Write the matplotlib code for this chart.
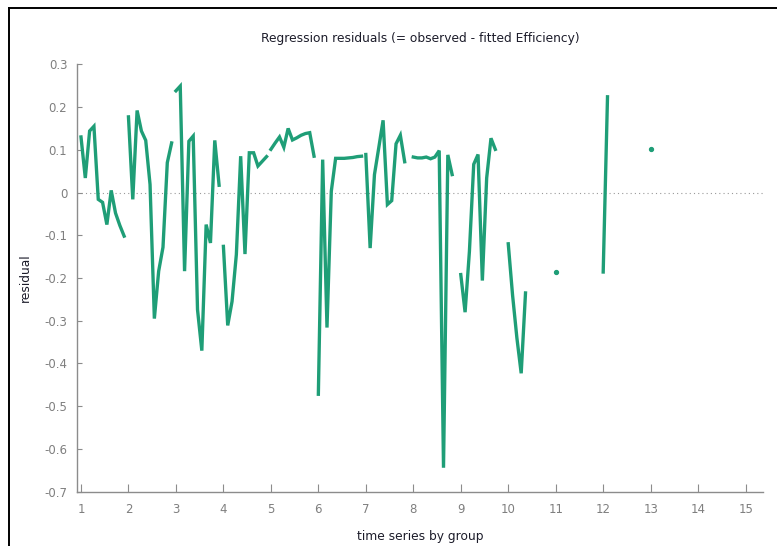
import numpy as np
import matplotlib
matplotlib.use("Agg")
import matplotlib.pyplot as plt
from matplotlib.lines import Line2D
from matplotlib.ticker import FuncFormatter

plt.rcParams["font.family"] = ["DejaVu Sans"]
plt.rcParams["axes.unicode_minus"] = False

# residuals per group (T = 11 periods per group, missing ones left out at the end)
g1 = [0.130, 0.034, 0.144, 0.155, -0.016, -0.023, -0.075, 0.005, -0.048, -0.077, -0.102]
g2 = [0.177, -0.016, 0.192, 0.144, 0.122, 0.019, -0.295, -0.184, -0.128, 0.070, 0.116]
g3 = [0.238, 0.249, -0.184, 0.120, 0.132, -0.274, -0.370, -0.075, -0.118, 0.122, 0.017]
g4 = [-0.126, -0.311, -0.255, -0.145, 0.085, -0.144, 0.093, 0.093, 0.062, 0.073, 0.084]
g5 = [0.101, 0.116, 0.130, 0.106, 0.150, 0.123, 0.128, 0.134, 0.138, 0.140, 0.085]
g6 = [-0.472, 0.077, -0.316, 0.003, 0.080, 0.080, 0.080, 0.081, 0.082, 0.084, 0.085]
g7 = [0.089, -0.130, 0.042, 0.105, 0.169, -0.028, -0.019, 0.114, 0.134, 0.072]
g8 = [0.083, 0.081, 0.081, 0.083, 0.079, 0.083, 0.098, -0.644, 0.088, 0.042]
g9 = [-0.192, -0.280, -0.138, 0.066, 0.089, -0.206, 0.034, 0.127, 0.101]
g10 = [-0.120, -0.240, -0.340, -0.423, -0.235]
g11 = [-0.186]
g12 = [-0.186, 0.224]
g13 = [0.101]

groups = [g1, g2, g3, g4, g5, g6, g7, g8, g9, g10, g11, g12, g13]
T = 11
xticks = list(range(1, 16))
yticks = [-0.7, -0.6, -0.5, -0.4, -0.3, -0.2, -0.1, 0, 0.1, 0.2, 0.3]

green = "#1f9e77"
grey = "#8c8c8c"

fig = plt.figure(figsize=(7.77, 5.46), dpi=100)
ax = fig.add_axes([0.0991, 0.0995, 0.8825, 0.7827])

ax.axhline(0, color="#9a9a9a", lw=0.8, linestyle=(0, (1, 2.8)), zorder=1)

for i, vals in enumerate(groups):
    x = (i + 1) + np.arange(len(vals)) / T
    if len(vals) == 1:
        ax.plot(x, vals, "o", color=green, ms=2.8, mec=green)
    else:
        ax.plot(x, vals, color=green, lw=2.4, solid_joinstyle="miter", zorder=2)

ax.set_xlim(0.916, 15.36)
ax.set_ylim(-0.7, 0.3)
ax.set_xticks(xticks)
ax.set_yticks(yticks)
ax.yaxis.set_major_formatter(FuncFormatter(lambda v, p: f"{v:g}"))

for s in ["top", "right"]:
    ax.spines[s].set_visible(False)
for s in ["left", "bottom"]:
    ax.spines[s].set_color(grey)
    ax.spines[s].set_linewidth(1.0)

ax.tick_params(axis="x", direction="in", length=6, color=grey, labelcolor="#7f7f7f",
               labelsize=8.5, pad=8)
ax.tick_params(axis="y", direction="in", length=3.5, color=grey, labelcolor="#7f7f7f",
               labelsize=8.5, pad=7)

ax.set_title("Regression residuals (= observed - fitted Efficiency)", fontsize=8.8,
             color="#1c1c2a", pad=16)
ax.set_xlabel("time series by group", fontsize=8.8, color="#1c1c2a", labelpad=10)
ax.set_ylabel("residual", fontsize=8.8, color="#1c1c2a", labelpad=9)

# screenshot frame (left and top edges)
fig.add_artist(Line2D([9 / 777, 9 / 777], [0, 1 - 8 / 546], color="black", lw=1.4,
                      transform=fig.transFigure))
fig.add_artist(Line2D([9 / 777, 1], [1 - 8 / 546, 1 - 8 / 546], color="black", lw=1.4,
                      transform=fig.transFigure))

fig.savefig("out.png", dpi=100)
